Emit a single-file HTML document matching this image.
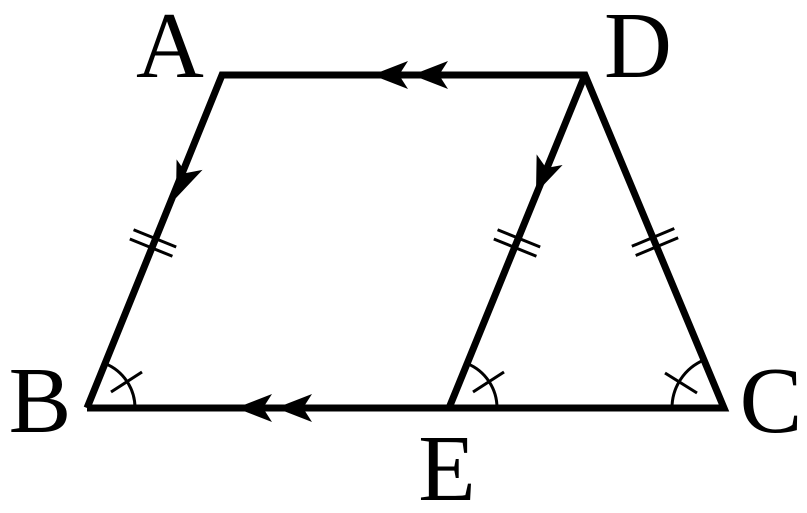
<!DOCTYPE html>
<html><head><meta charset="utf-8"><style>
html,body{margin:0;padding:0;background:#fff;}
svg{display:block;}
text{font-family:"Liberation Serif",serif;font-size:94px;fill:#000;}
</style></head><body>
<svg width="807" height="513" viewBox="0 0 807 513" xmlns="http://www.w3.org/2000/svg">
<defs>
<path id="ah" d="M0,0 L-36,-14 L-27,0 L-36,14 Z" fill="#000"/>
</defs>
<g stroke="#000" stroke-width="7" fill="none" stroke-linejoin="miter" stroke-linecap="butt">
<polyline points="87,408 222,75 585,75 724,408 87,408"/>
<line x1="585" y1="75" x2="449" y2="408"/>
</g>
<!-- arrows top -->
<use href="#ah" transform="translate(372,75) rotate(180)"/>
<use href="#ah" transform="translate(412,75) rotate(180)"/>
<!-- arrows bottom -->
<use href="#ah" transform="translate(236,408) rotate(180)"/>
<use href="#ah" transform="translate(276,408) rotate(180)"/>
<!-- arrows down slants -->
<use href="#ah" transform="translate(176,198) rotate(112.1)"/>
<use href="#ah" transform="translate(536,193) rotate(112.2)"/>
<!-- tick marks -->
<g stroke="#000" stroke-width="3" fill="none">
<g transform="translate(153,243) rotate(22.1)">
<line x1="-23" y1="-5" x2="23" y2="-5"/><line x1="-23" y1="5" x2="23" y2="5"/>
</g>
<g transform="translate(517,243) rotate(22.1)">
<line x1="-23" y1="-5" x2="23" y2="-5"/><line x1="-23" y1="5" x2="23" y2="5"/>
</g>
<g transform="translate(655,242) rotate(-22.7)">
<line x1="-23" y1="-5" x2="23" y2="-5"/><line x1="-23" y1="5" x2="23" y2="5"/>
</g>
<!-- angle arcs -->
<path d="M135,408 A48,48 0 0 0 105,363.5"/>
<line x1="111" y1="392" x2="142" y2="372"/>
<path d="M497,408 A48,48 0 0 0 467,363.5"/>
<line x1="473" y1="392" x2="504" y2="372"/>
<path d="M672,408 A52,52 0 0 1 704,360"/>
<line x1="665" y1="373" x2="697" y2="393"/>
</g>
<text x="170" y="77" text-anchor="middle">A</text>
<text x="638" y="77" text-anchor="middle">D</text>
<text x="40" y="432" text-anchor="middle">B</text>
<text x="771" y="432" text-anchor="middle">C</text>
<text x="447" y="500" text-anchor="middle">E</text>
</svg>
</body></html>
